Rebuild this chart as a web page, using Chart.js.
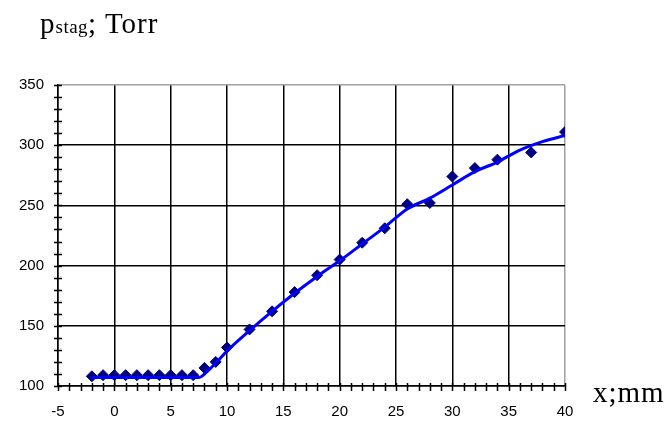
<html lang="en">
  <head>
    <meta charset="utf-8" />
    <title>p stag vs x</title>
    <script src="https://cdn.jsdelivr.net/npm/chart.js@4.4.1/dist/chart.umd.min.js"></script>
    <style>
      * {
        margin: 0;
        padding: 0;
        box-sizing: border-box;
      }
      body {
        background: #fff;
        width: 668px;
        height: 422px;
        overflow: hidden;
      }
      .wrap {
        position: relative;
        width: 668px;
        height: 422px;
      }
      .lbl {
        position: absolute;
        font-family: "Liberation Serif", "Times New Roman", serif;
        font-size: 29px;
        letter-spacing: 1px;
        line-height: 1;
        color: #000;
        white-space: nowrap;
      }
      .lbl .sub {
        font-size: 19px;
        letter-spacing: 0.5px;
      }
      #ytitle {
        left: 40px;
        top: 9px;
      }
      #xtitle {
        left: 593px;
        top: 378px;
      }
    </style>
  </head>
  <body>
    <div class="wrap">
      <canvas id="chart" width="668" height="422"></canvas>
      <div class="lbl" id="ytitle">p<span class="sub">stag</span>; Torr</div>
      <div class="lbl" id="xtitle">x;mm</div>
    </div>

    <script>
// measured points
const xPos = [-2, -1, 0, 1, 2, 3, 4, 5, 6, 7, 8, 9, 10, 12, 14, 16, 18, 20, 22, 24, 26, 28, 30, 32, 34, 37, 40];
const pStag = [108, 109, 109, 109, 109, 109, 109, 109, 109, 109, 115, 120, 132, 147, 162, 178, 192, 205, 219, 231, 251, 252, 274, 281, 288, 294, 311];
// smoothed curve through them
const fitX = [-2, 7.5, 8, 9, 10, 12, 14, 16, 18, 20, 22, 24, 26, 28, 30, 32, 34, 36, 38, 40];
const fitY = [107, 107, 110, 119, 129, 146, 162, 177, 191, 204, 218, 232, 247, 256, 267, 278, 286, 296, 303, 308];
// axes
const xMin = -5, xMax = 40, xStep = 5, xMinor = 1;
const yMin = 100, yMax = 350, yStep = 50, yMinor = 10;

const pts = xPos.map((x, i) => ({ x: x, y: pStag[i] }));
const fit = fitX.map((x, i) => ({ x: x, y: fitY[i] }));

//small tick marks crossing both axes
const minorTicks = {
  id: "minorTicks",
  afterDraw(chart) {
    const c = chart.ctx;
    const xs = chart.scales.x;
    const ys = chart.scales.y;
    const a = chart.chartArea;
    c.save();
    c.strokeStyle = "#000";
    c.lineWidth = 1.5;
    c.beginPath();
    for (let v = xMin; v <= xMax; v += xMinor) {
      const px = Math.round(xs.getPixelForValue(v)) + 0.5;
      c.moveTo(px, a.bottom - 3);
      c.lineTo(px, a.bottom + 5);
    }
    for (let v = yMin; v <= yMax; v += yMinor) {
      const py = Math.round(ys.getPixelForValue(v)) + 0.5;
      c.moveTo(a.left - 4, py);
      c.lineTo(a.left + 4, py);
    }
    c.stroke();
    c.restore();
  },
};

let myChart = new Chart(document.getElementById("chart"), {
  type: "scatter",
  plugins: [minorTicks],
  data: {
    datasets: [
      {
        data: fit,
        showLine: true,
        borderColor: "#0000ff",
        borderWidth: 3,
        pointRadius: 0,
        cubicInterpolationMode: "monotone",
        order: 0,
      },
      {
        data: pts,
        pointStyle: "rectRot",
        pointRadius: 5.5,
        backgroundColor: "#000080",
        borderColor: "#000080",
        borderWidth: 1,
        order: 1,
      },
    ],
  },
  options: {
    responsive: false,
    animation: false,
    layout: { padding: { left: 0, right: 103, top: 85, bottom: 0 } },
    plugins: {
      legend: { display: false },
      tooltip: { enabled: false },
    },
    scales: {
      x: {
        type: "linear",
        min: xMin,
        max: xMax,
        afterFit: (s) => { s.height = 36; },
        ticks: {
          stepSize: xStep,
          padding: 17,
          color: "#000",
          font: { family: "Liberation Sans", size: 15 },
          maxRotation: 0,
        },
        grid: {
          color: (ctx) => (ctx.tick && ctx.tick.value === xMax ? "#a0a0a0" : "#000"),
          lineWidth: 1.5,
          drawTicks: false,
        },
        border: { color: "#000", width: 1.5 },
      },
      y: {
        min: yMin,
        max: yMax,
        afterFit: (s) => { s.width = 58; },
        ticks: {
          stepSize: yStep,
          padding: 14,
          color: "#000",
          font: { family: "Liberation Sans", size: 15 },
        },
        grid: {
          color: (ctx) => (ctx.tick && ctx.tick.value === yMax ? "#a0a0a0" : "#000"),
          lineWidth: 1.5,
          drawTicks: false,
        },
        border: { color: "#000", width: 1.5 },
      },
    },
  },
});
    </script>
  </body>
</html>
